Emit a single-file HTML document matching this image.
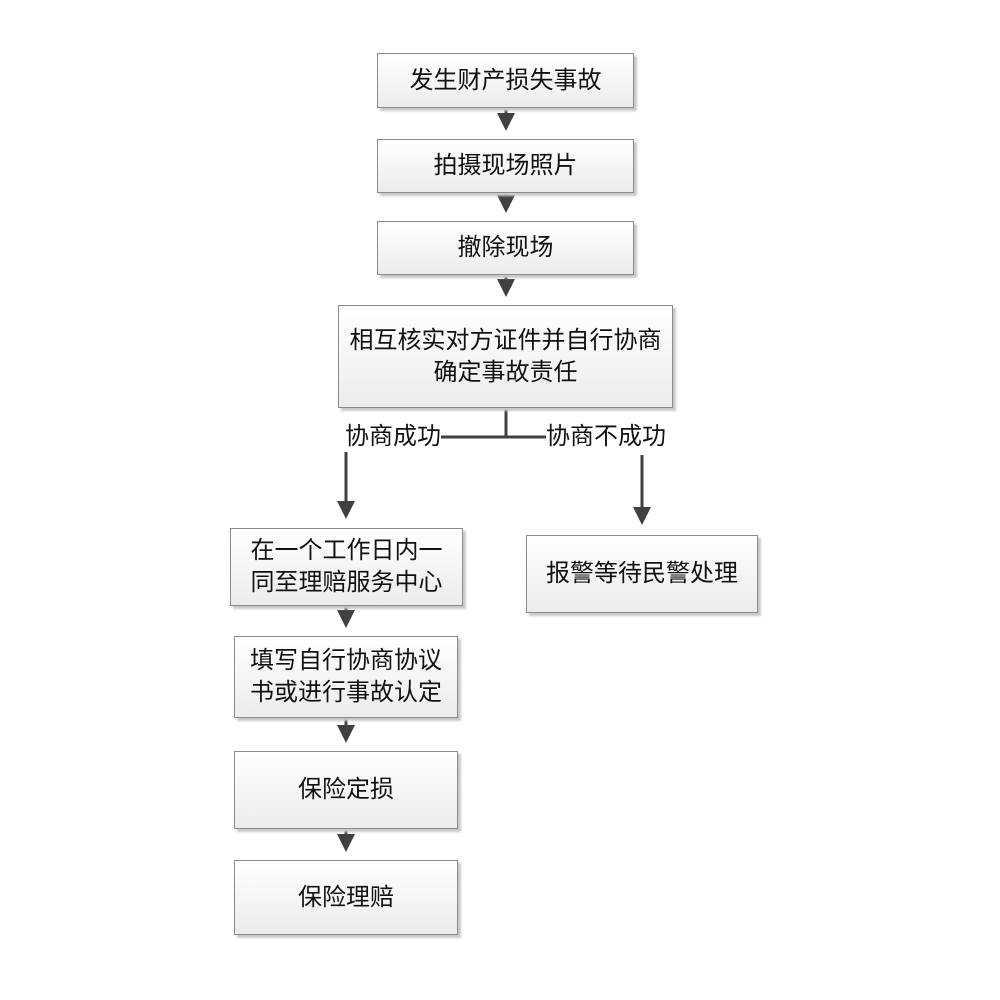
<!DOCTYPE html>
<html><head><meta charset="utf-8"><style>
body{margin:0;width:1000px;height:1000px;background:#fff;position:relative;font-family:"Liberation Sans","Noto Sans CJK SC",sans-serif;}
.b{position:absolute;box-sizing:border-box;border:1px solid #8a8a8a;background:linear-gradient(#ffffff,#ececec);box-shadow:3px 3px 2px #c8c8c8;display:flex;align-items:center;justify-content:center;text-align:center;font-size:24px;line-height:32px;color:#111;}
.l{position:absolute;font-size:24px;color:#111;line-height:26px;background:#fff;}
svg{position:absolute;left:0;top:0;}
</style></head><body>
<svg width="1000" height="1000">
<defs><marker id="a" markerWidth="6" markerHeight="6" refX="5" refY="3" orient="auto" markerUnits="strokeWidth"><path d="M0,0 L6,3 L0,6 z" fill="#404040"/></marker></defs>
<g stroke="#404040" stroke-width="3" fill="none">
<line x1="506" y1="108" x2="506" y2="128" marker-end="url(#a)"/>
<line x1="506" y1="193" x2="506" y2="210" marker-end="url(#a)"/>
<line x1="506" y1="275" x2="506" y2="294" marker-end="url(#a)"/>
<line x1="506" y1="408" x2="506" y2="437"/>
<line x1="440" y1="437" x2="550" y2="437"/>
<line x1="346" y1="452" x2="346" y2="516" marker-end="url(#a)"/>
<line x1="642" y1="455" x2="642" y2="522" marker-end="url(#a)"/>
<line x1="346" y1="606" x2="346" y2="625" marker-end="url(#a)"/>
<line x1="346" y1="718" x2="346" y2="740" marker-end="url(#a)"/>
<line x1="346" y1="829" x2="346" y2="849" marker-end="url(#a)"/>
</g></svg>
<div class="b" style="left:377px;top:53px;width:257px;height:55px">发生财产损失事故</div>
<div class="b" style="left:377px;top:139px;width:257px;height:54px">拍摄现场照片</div>
<div class="b" style="left:377px;top:221px;width:257px;height:54px">撤除现场</div>
<div class="b" style="left:338px;top:305px;width:335px;height:103px">相互核实对方证件并自行协商<br>确定事故责任</div>
<div class="l" style="left:345px;top:424px">协商成功</div>
<div class="l" style="left:546px;top:424px">协商不成功</div>
<div class="b" style="left:230px;top:528px;width:233px;height:78px">在一个工作日内一<br>同至理赔服务中心</div>
<div class="b" style="left:526px;top:535px;width:232px;height:78px">报警等待民警处理</div>
<div class="b" style="left:234px;top:636px;width:224px;height:82px">填写自行协商协议<br>书或进行事故认定</div>
<div class="b" style="left:234px;top:751px;width:224px;height:78px">保险定损</div>
<div class="b" style="left:234px;top:860px;width:224px;height:75px">保险理赔</div>
</body></html>
